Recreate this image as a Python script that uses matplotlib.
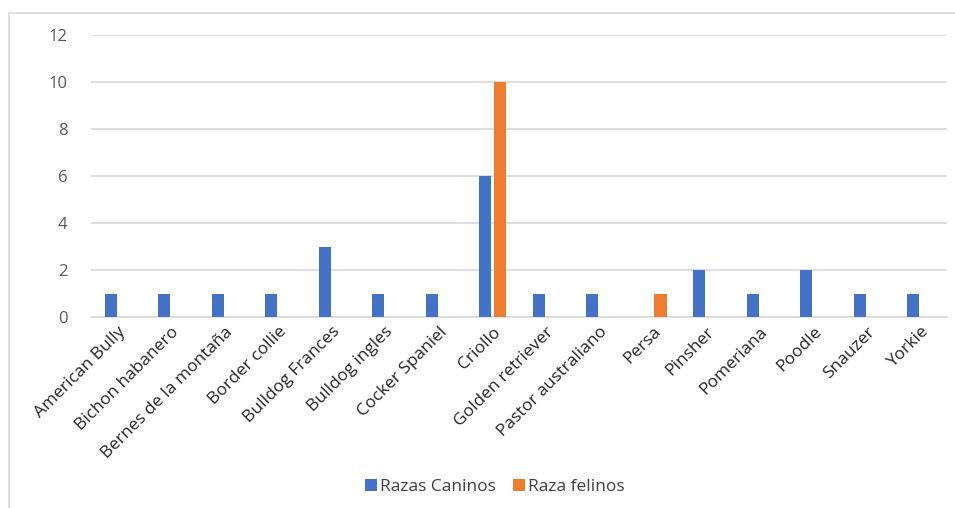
import matplotlib
matplotlib.use("Agg")
import matplotlib.pyplot as plt
from matplotlib.patches import Rectangle
import numpy as np

CATEGORIES = ["American Bully", "Bichon habanero", "Bernes de la montaña",
              "Border collie", "Bulldog Frances", "Bulldog ingles",
              "Cocker Spaniel", "Criollo", "Golden retriever",
              "Pastor australiano", "Persa", "Pinsher", "Pomeriana",
              "Poodle", "Snauzer", "Yorkie"]
CANINOS = [1, 1, 1, 1, 3, 1, 1, 6, 1, 1, 0, 2, 1, 2, 1, 1]
FELINOS = [0, 0, 0, 0, 0, 0, 0, 10, 0, 0, 1, 0, 0, 0, 0, 0]
SERIES = ["Razas Caninos", "Raza felinos"]
YTICKS = [0, 2, 4, 6, 8, 10, 12]

BLUE, ORANGE = "#4472C4", "#ED7D31"
GRID = "#d9d9d9"

plt.rcParams["font.family"] = ["Open Sans", "DejaVu Sans"]

fig = plt.figure(figsize=(9.55, 5.08), dpi=100)
fig.patch.set_facecolor("white")
ax = fig.add_axes([91 / 955, 1 - 317 / 508, 856 / 955, 282 / 508])

# chart area border (left and top visible)
fig.patches.append(Rectangle((9 / 955, -0.05), 1.2, 1 - 13 / 508 + 0.05,
                             transform=fig.transFigure, fill=False,
                             edgecolor=GRID, lw=1.2, zorder=0))

x = np.arange(len(CATEGORIES))
w = 0.225
ax.bar(x - 0.135, CANINOS, w, color=BLUE, label=SERIES[0], zorder=3)
ax.bar(x + 0.145, FELINOS, w, color=ORANGE, label=SERIES[1], zorder=3)

ax.set_xlim(-0.5, len(CATEGORIES) - 0.5)
ax.set_ylim(0, 12)
ax.set_yticks(YTICKS)
ax.set_yticklabels([str(v) for v in YTICKS], fontsize=12, color="#595959")
ax.set_xticks(x)
ax.set_xticklabels(CATEGORIES, rotation=45, ha="right", va="top",
                   rotation_mode="anchor", fontsize=12.5, color="#262626")
ax.tick_params(axis="both", length=0)
ax.tick_params(axis="y", pad=17)
ax.tick_params(axis="x", pad=5)
ax.grid(axis="y", color=GRID, lw=1.2, zorder=0)
for side in ("top", "right", "left"):
    ax.spines[side].set_visible(False)
ax.spines["bottom"].set_color(GRID)
ax.spines["bottom"].set_linewidth(1.2)

fig.legend(loc="center", bbox_to_anchor=(495 / 955, 1 - 487 / 508), ncol=2,
           frameon=False, fontsize=12.5, handlelength=0.65, handleheight=0.65,
           handletextpad=0.2, columnspacing=1.0, labelcolor="#404040")

fig.savefig("out.png", dpi=100, facecolor="white")
